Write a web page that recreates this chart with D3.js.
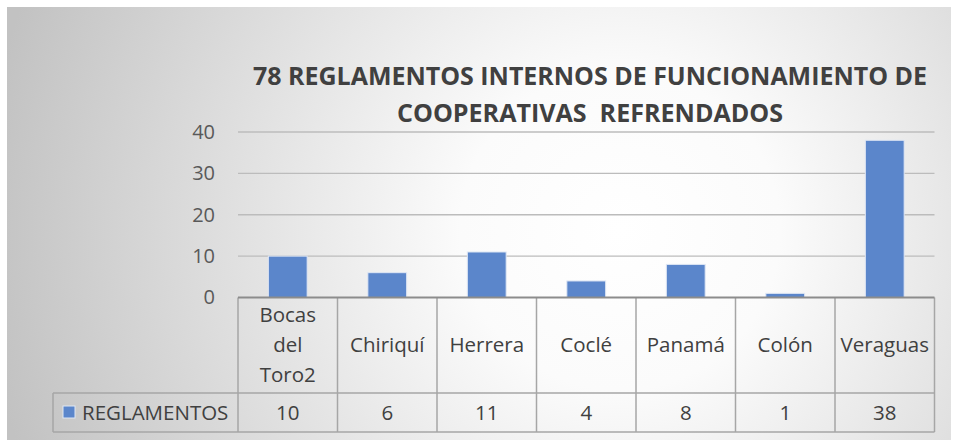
<!DOCTYPE html>
<html>
<head>
<meta charset="utf-8">
<script src="https://cdn.jsdelivr.net/npm/d3@7"></script>
<style>
  body { margin: 0; background: #fff; }
  text { font-family: "Open Sans", "Liberation Sans", sans-serif; }
</style>
</head>
<body>
<div id="chart"></div>
<script>
var categories = ['Bocas del Toro2', 'Chiriquí', 'Herrera', 'Coclé', 'Panamá', 'Colón', 'Veraguas'];
var values = [10, 6, 11, 4, 8, 1, 38];
var yTicks = [0, 10, 20, 30, 40];
var seriesName = 'REGLAMENTOS';
var titleLines = ['78 REGLAMENTOS INTERNOS DE FUNCIONAMIENTO DE', 'COOPERATIVAS  REFRENDADOS'];

var width = 953,
    height = 442;

var svg = d3.select('#chart')
    .append('svg')
    .attr('width', width)
    .attr('height', height);

var defs = svg.append('defs');
var grad = defs.append('radialGradient')
    .attr('id', 'bg')
    .attr('gradientUnits', 'userSpaceOnUse')
    .attr('cx', 620)
    .attr('cy', 230)
    .attr('r', 640);
grad.append('stop').attr('offset', '0').attr('stop-color', '#ffffff');
grad.append('stop').attr('offset', '0.25').attr('stop-color', '#fbfbfb');
grad.append('stop').attr('offset', '1').attr('stop-color', '#c2c2c2');

// chart area
svg.append('rect')
    .attr('x', 7)
    .attr('y', 7)
    .attr('width', 944)
    .attr('height', 433)
    .attr('fill', 'url(#bg)');

// title
svg.selectAll('.title')
    .data(titleLines)
    .enter()
    .append('text')
    .attr('class', 'title')
    .attr('x', 590)
    .attr('y', function (d, i) { return 85 + i * 37; })
    .attr('text-anchor', 'middle')
    .attr('font-family', 'Roboto, "Open Sans", sans-serif')
    .attr('font-size', 25)
    .attr('font-weight', 'bold')
    .attr('fill', '#404040')
    .style('white-space', 'pre')
    .attr('textLength', function (d, i) { return i === 0 ? 674 : 386; })
    .attr('lengthAdjust', 'spacingAndGlyphs')
    .text(function (d) { return d; });

var left = 238, right = 934.5;
var x = d3.scaleBand()
    .domain(categories)
    .range([left, right])
    .paddingInner(0.61)
    .paddingOuter(0.305);
var col = d3.scaleBand()
    .domain(categories)
    .range([left, right]);

var y = d3.scaleLinear()
    .domain([0, 40])
    .range([297.5, 132]);

// gridlines
svg.append('g')
    .selectAll('line')
    .data(yTicks.slice(1))
    .enter()
    .append('line')
    .attr('x1', left)
    .attr('x2', right)
    .attr('y1', function (d) { return y(d); })
    .attr('y2', function (d) { return y(d); })
    .attr('stroke', '#bcbcbc')
    .attr('stroke-width', 1.3);

// y axis labels
var yAxis = svg.append('g')
    .attr('transform', 'translate(' + left + ',0)')
    .call(d3.axisLeft(y).tickValues(yTicks).tickSize(0).tickPadding(23));
yAxis.select('.domain').remove();
yAxis.selectAll('text')
    .attr('font-family', '"Open Sans", sans-serif')
    .attr('font-size', 20)
    .attr('fill', '#595959');

// bars
svg.selectAll('.bar')
    .data(values)
    .enter()
    .append('rect')
    .attr('class', 'bar')
    .attr('x', function (d, i) { return x(categories[i]); })
    .attr('width', x.bandwidth())
    .attr('y', function (d) { return y(d); })
    .attr('height', function (d) { return y(0) - y(d); })
    .attr('fill', '#5b86cb')
    .attr('stroke', '#dfe7f4')
    .attr('stroke-width', 1);

// data table
var rowTop = y(0), rowMid = 393, rowBot = 432, legLeft = 53;
var tbl = svg.append('g')
    .attr('fill', 'none')
    .attr('stroke', '#a6a6a6')
    .attr('stroke-width', 1.5);

tbl.selectAll('.vline')
    .data(categories.concat(['end']))
    .enter()
    .append('line')
    .attr('x1', function (d, i) { return i < categories.length ? col(d) : right; })
    .attr('x2', function (d, i) { return i < categories.length ? col(d) : right; })
    .attr('y1', rowTop)
    .attr('y2', rowBot);
tbl.append('line').attr('x1', legLeft).attr('x2', legLeft).attr('y1', rowMid).attr('y2', rowBot);
tbl.append('line').attr('x1', legLeft).attr('x2', right).attr('y1', rowMid).attr('y2', rowMid);
tbl.append('line').attr('x1', legLeft).attr('x2', right).attr('y1', rowBot).attr('y2', rowBot);

// axis line
svg.append('line')
    .attr('x1', left)
    .attr('x2', right)
    .attr('y1', y(0))
    .attr('y2', y(0))
    .attr('stroke', '#8c8c8c')
    .attr('stroke-width', 2);

// category labels (wrapped)
var catG = svg.selectAll('.cat')
    .data(categories)
    .enter()
    .append('text')
    .attr('class', 'cat')
    .attr('text-anchor', 'middle')
    .attr('font-size', 20.5)
    .attr('fill', '#404040');
catG.each(function (d) {
    var words = d.length > 10 ? d.split(' ') : [d];
    var cx = col(d) + col.bandwidth() / 2;
    var mid = (rowTop + rowMid) / 2;
    var lh = 30;
    var start = mid - (words.length - 1) * lh / 2;
    d3.select(this).selectAll('tspan')
        .data(words)
        .enter()
        .append('tspan')
        .attr('x', cx)
        .attr('y', function (w, i) { return start + i * lh; })
        .attr('dy', '0.35em')
        .text(function (w) { return w; });
});

// values row
svg.selectAll('.val')
    .data(values)
    .enter()
    .append('text')
    .attr('class', 'val')
    .attr('x', function (d, i) { return col(categories[i]) + col.bandwidth() / 2; })
    .attr('y', (rowMid + rowBot) / 2)
    .attr('dy', '0.35em')
    .attr('text-anchor', 'middle')
    .attr('font-size', 20.5)
    .attr('fill', '#404040')
    .text(function (d) { return d; });

// legend key
svg.append('rect')
    .attr('x', 63)
    .attr('y', 406)
    .attr('width', 12)
    .attr('height', 12)
    .attr('fill', '#5b86cb')
    .attr('stroke', '#dfe7f4')
    .attr('stroke-width', 1);
svg.append('text')
    .attr('x', 82)
    .attr('y', (rowMid + rowBot) / 2)
    .attr('dy', '0.35em')
    .attr('font-size', 20.5)
    .attr('fill', '#404040')
    .text(seriesName);
</script>
</body>
</html>
